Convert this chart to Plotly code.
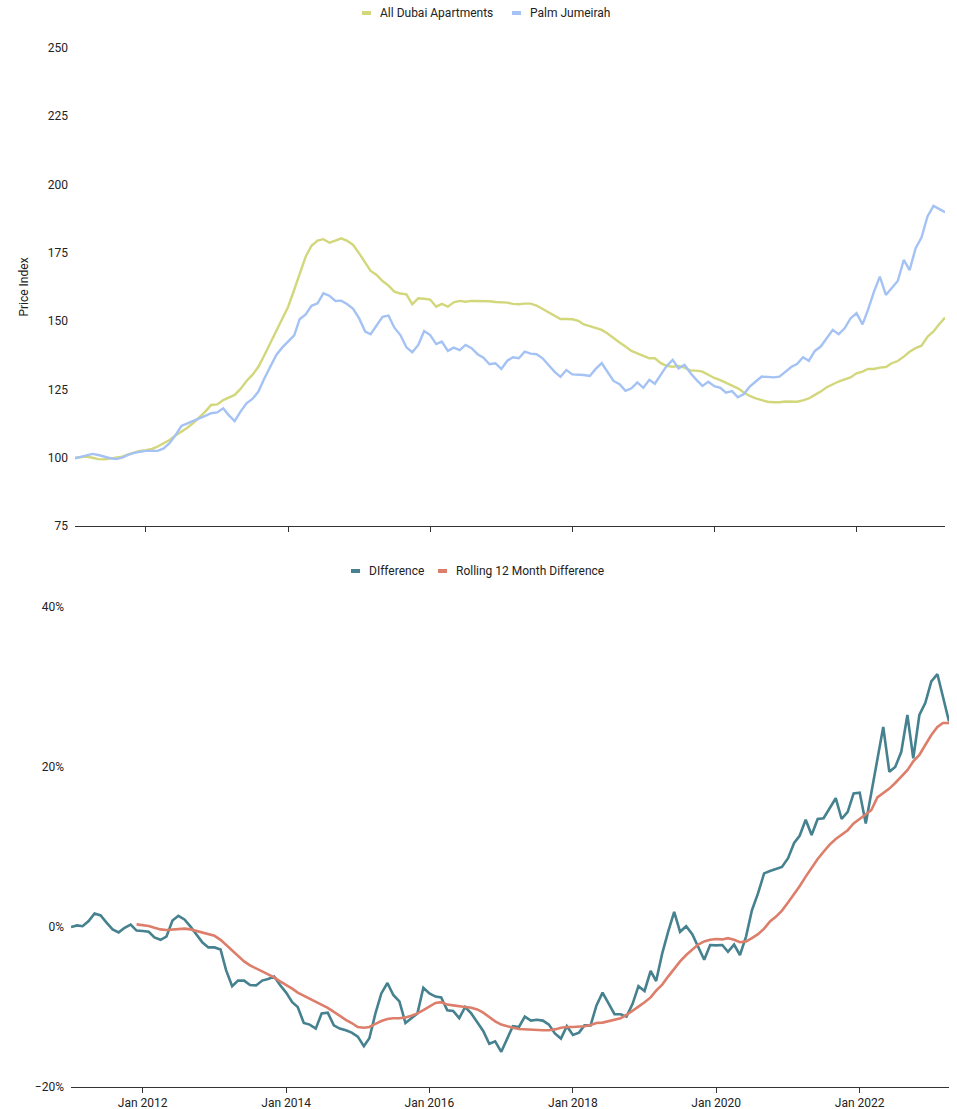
import plotly.graph_objects as go
import pandas as pd

# Monthly dates Jan 2011 .. Apr 2023
months = pd.date_range("2011-01-01", periods=148, freq="MS")

all_dubai = [
    100, 100.1, 100.4, 100, 99.5, 99.4, 99.8, 100.1, 100.4, 101.2, 101.8, 102.5,
    102.8, 103.2, 104.1, 105.3, 106.5, 108.1, 109.5, 111, 112.8, 114.7, 116.9, 119.3,
    119.5, 121.1, 122, 123, 125.2, 128.1, 130.3, 133.3, 137.6, 141.9, 146.2, 150.4,
    155.3, 161.5, 167.5, 173.6, 177.6, 179.5, 180, 178.7, 179.5, 180.3, 179.4, 177.9,
    174.8, 171.4, 168.4, 166.9, 164.7, 163, 160.8, 160.1, 159.8, 156.2, 158.4, 158.2,
    157.9, 155.3, 156.3, 155.3, 156.9, 157.4, 157.1, 157.4, 157.4, 157.4, 157.3, 157,
    157, 156.8, 156.3, 156.2, 156.4, 156.4, 155.7, 154.5, 153.2, 152, 150.8, 150.8,
    150.7, 150.1, 148.8, 148.2, 147.6, 146.8, 145.5, 143.7, 142.2, 140.7, 139.1, 138.2,
    137.4, 136.4, 136.4, 134.6, 133.6, 133.3, 133.6, 133, 131.9, 131.9, 131.5, 130.3,
    129.2, 128.4, 127.5, 126.6, 125.4, 123.9, 122.6, 121.7, 121, 120.5, 120.3, 120.3,
    120.6, 120.5, 120.5, 121, 121.7, 123, 124.2, 125.8, 126.9, 127.9, 128.7, 129.4,
    130.9, 131.5, 132.5, 132.5, 133, 133.2, 134.6, 135.4, 137, 138.8, 140.1, 141,
    144.3, 146.2, 148.8, 151.3,
]

palm = [
    99.8, 100.3, 100.9, 101.4, 101, 100.4, 99.8, 99.5, 100, 101, 101.8, 102.2,
    102.5, 102.5, 102.5, 103.4, 105.3, 108.3, 111.6, 112.6, 113.4, 114.4, 115.3, 116.3,
    116.6, 118.1, 115.6, 113.4, 116.9, 119.9, 121.5, 124.2, 129.1, 133.3, 137.6, 140.3,
    142.6, 144.8, 150.7, 152.5, 155.6, 156.5, 160.2, 159.3, 157.4, 157.5, 156.2, 154.5,
    151, 146.2, 145.2, 148.6, 151.6, 152, 147.6, 144.9, 140.4, 138.6, 141.3, 146.4,
    144.9, 141.6, 142.5, 139.1, 140.3, 139.4, 141.3, 140.1, 137.9, 136.6, 134.2, 134.6,
    132.5, 135.5, 136.8, 136.4, 138.8, 138.1, 137.9, 136.4, 133.7, 131.5, 129.6, 132.1,
    130.5, 130.5, 130.3, 129.9, 132.5, 134.6, 131.5, 128.1, 126.9, 124.5, 125.4, 127.6,
    125.6, 128.5, 127.1, 130.3, 133.6, 135.8, 132.7, 134, 130.9, 128.5, 126.3, 127.8,
    126.2, 125.6, 123.8, 124.4, 122.1, 123.3, 126, 127.9, 129.7, 129.6, 129.4, 129.7,
    131.5, 133.3, 134.3, 136.8, 135.5, 139.1, 140.7, 143.9, 146.8, 145.2, 147.4, 151,
    152.9, 148.8, 154.1, 160.8, 166.3, 159.6, 162, 164.7, 172.4, 168.7, 176.7, 180.6,
    188.3, 192.2, 191.1, 189.9,
]

difference = [
    0.0, 0.2, 0.1, 0.75, 1.7, 1.45, 0.55, -0.3, -0.67, -0.1, 0.3, -0.45,
    -0.5, -0.6, -1.3, -1.6, -1.2, 0.8, 1.4, 0.95, 0.05, -1.0, -1.95, -2.55,
    -2.55, -2.8, -5.4, -7.4, -6.7, -6.7, -7.25, -7.3, -6.7, -6.5, -6.2, -7.25,
    -8.2, -9.4, -10.0, -12.0, -12.2, -12.7, -10.8, -10.7, -12.3, -12.7, -12.9, -13.2,
    -13.7, -14.9, -13.9, -10.8, -8.3, -7.0, -8.5, -9.3, -12.0, -11.4, -10.8, -7.6,
    -8.3, -8.7, -8.8, -10.4, -10.5, -11.4, -10.0, -10.8, -12.0, -13.0, -14.6, -14.3,
    -15.6, -13.8, -12.4, -12.5, -11.2, -11.7, -11.6, -11.7, -12.2, -13.3, -13.95, -12.4,
    -13.5, -13.2, -12.3, -12.3, -9.8, -8.2, -9.5, -10.9, -10.9, -11.2, -9.6, -7.4,
    -8.0, -5.5, -6.75, -3.3, -0.6, 1.9, -0.6, 0.1, -0.9, -2.5, -4.1, -2.25,
    -2.3, -2.25, -3.1, -2.2, -3.5, -1.2, 2.1, 4.2, 6.7, 7.0, 7.25, 7.5,
    8.6, 10.5, 11.4, 13.4, 11.5, 13.5, 13.6, 14.8, 16.1, 13.5, 14.4, 16.7,
    16.8, 12.95, 16.9, 20.9, 25.0, 19.4, 20.0, 21.9, 26.5, 21.1, 26.5, 28.0,
    30.7, 31.6, 28.7, 25.7,
]

# Rolling 12-month difference, starting Dec 2011
rolling = [
    0.33,
    0.25, 0.13, -0.08, -0.3, -0.38, -0.3, -0.21, -0.21, -0.3, -0.5, -0.67, -0.88,
    -1.1, -1.6, -2.25, -2.95, -3.7, -4.3, -4.8, -5.2, -5.5, -5.9, -6.3, -6.8,
    -7.2, -7.7, -8.2, -8.6, -9.0, -9.3, -9.7, -10.1, -10.6, -11.1, -11.6, -12.0,
    -12.5, -12.6, -12.5, -12.1, -11.75, -11.5, -11.4, -11.4, -11.3, -11.1, -10.8, -10.4,
    -9.9, -9.5, -9.4, -9.7, -9.8, -9.95, -10.0, -10.1, -10.3, -10.7, -11.3, -11.8,
    -12.2, -12.45, -12.6, -12.75, -12.8, -12.8, -12.9, -12.9, -12.9, -12.8, -12.6, -12.5,
    -12.5, -12.45, -12.4, -12.25, -12.0, -11.95, -11.8, -11.6, -11.4, -11.0, -10.5, -9.95,
    -9.4, -8.8, -7.95, -7.2, -6.2, -5.25, -4.3, -3.5, -2.8, -2.2, -1.8, -1.6,
    -1.5, -1.55, -1.4, -1.6, -1.9, -1.8, -1.4, -0.9, -0.2, 0.7, 1.3, 2.05,
    3.05, 4.1, 5.1, 6.3, 7.4, 8.5, 9.4, 10.3, 11.0, 11.5, 12.1, 12.95,
    13.5, 14.0, 14.6, 16.2, 16.7, 17.3, 18.0, 18.8, 19.6, 20.7, 21.5, 22.75,
    24.0, 25.0, 25.5, 25.5,
]
rolling_start = 11

top_names = ["All Dubai Apartments", "Palm Jumeirah"]
bottom_names = ["DIfference", "Rolling 12 Month Difference"]

C_ALL = "#d3d77b"
C_PALM = "#a4c2f4"
C_DIFF = "#45818e"
C_ROLL = "#dd7e6b"

FONT = "Roboto"
TXT = "#222222"
W, H = 957, 1109


def py(px):
    return 1 - px / H


def pxx(px):
    return px / W


fig = go.Figure()


def add_line(x, y, name, color, xa, ya, width=2.4):
    fig.add_trace(go.Scatter(x=x, y=y, name=name, mode="lines",
                             line=dict(color=color, width=width),
                             xaxis=xa, yaxis=ya, showlegend=False))


add_line(months, all_dubai, top_names[0], C_ALL, "x", "y")
add_line(months, palm, top_names[1], C_PALM, "x", "y")
add_line(months, difference, bottom_names[0], C_DIFF, "x2", "y2", 2.6)
add_line(months[rolling_start:], rolling, bottom_names[1], C_ROLL, "x2", "y2", 2.6)

# Legend entries (Google-Sheets style: short thick dash then label)
legend_rows = [
    (13, [(362, top_names[0], C_ALL), (512, top_names[1], C_PALM)]),
    (571, [(351, bottom_names[0], C_DIFF), (438, bottom_names[1], C_ROLL)]),
]
annotations = []
shapes = []
for ypx, items in legend_rows:
    for xpx, name, color in items:
        shapes.append(dict(type="rect", xref="paper", yref="paper",
                           x0=pxx(xpx), x1=pxx(xpx + 9), y0=py(ypx + 2), y1=py(ypx - 2),
                           fillcolor=color, line=dict(width=0)))
        annotations.append(dict(text=name, xref="paper", yref="paper",
                                x=pxx(xpx + 16), y=py(ypx), xanchor="left", yanchor="middle",
                                showarrow=False, font=dict(family=FONT, size=12, color=TXT)))

x_range = [months[0], months[-1]]
common_x = dict(type="date", range=x_range, showgrid=False, zeroline=False,
                showline=True, linecolor="#333333", linewidth=1,
                ticks="outside", ticklen=5, tickcolor="#333333",
                tick0="2012-01-01", dtick="M24", fixedrange=True)

fig.update_layout(
    width=W, height=H,
    margin=dict(l=0, r=0, t=0, b=0, autoexpand=False),
    paper_bgcolor="white", plot_bgcolor="white",
    font=dict(family=FONT, size=12, color=TXT),
    showlegend=False,
    xaxis=dict(domain=[pxx(75), pxx(945)], anchor="y", showticklabels=False, **common_x),
    yaxis=dict(domain=[py(526), py(48)], anchor="x", range=[75, 250], dtick=25, tick0=75,
               showgrid=False, zeroline=False, showline=False, ticks="",
               ticklabelstandoff=6, tickfont=dict(size=12, color=TXT), fixedrange=True,
               title=dict(text="Price Index", font=dict(size=12, color=TXT), standoff=16)),
    xaxis2=dict(domain=[pxx(71), pxx(949)], anchor="y2", showticklabels=True,
                tickformat="%b %Y", tickfont=dict(size=12, color=TXT), **common_x),
    yaxis2=dict(domain=[py(1087), py(607)], anchor="x2", range=[-20, 40], dtick=20, tick0=-20,
                ticksuffix="%", showgrid=False, zeroline=False, showline=False, ticks="",
                ticklabelstandoff=6, tickfont=dict(size=12, color=TXT), fixedrange=True),
    annotations=annotations,
    shapes=shapes,
)

fig.write_html(
    "out.html",
    config={"displayModeBar": False},
    post_script="document.body.style.margin='0';document.body.style.overflow='hidden';",
)
